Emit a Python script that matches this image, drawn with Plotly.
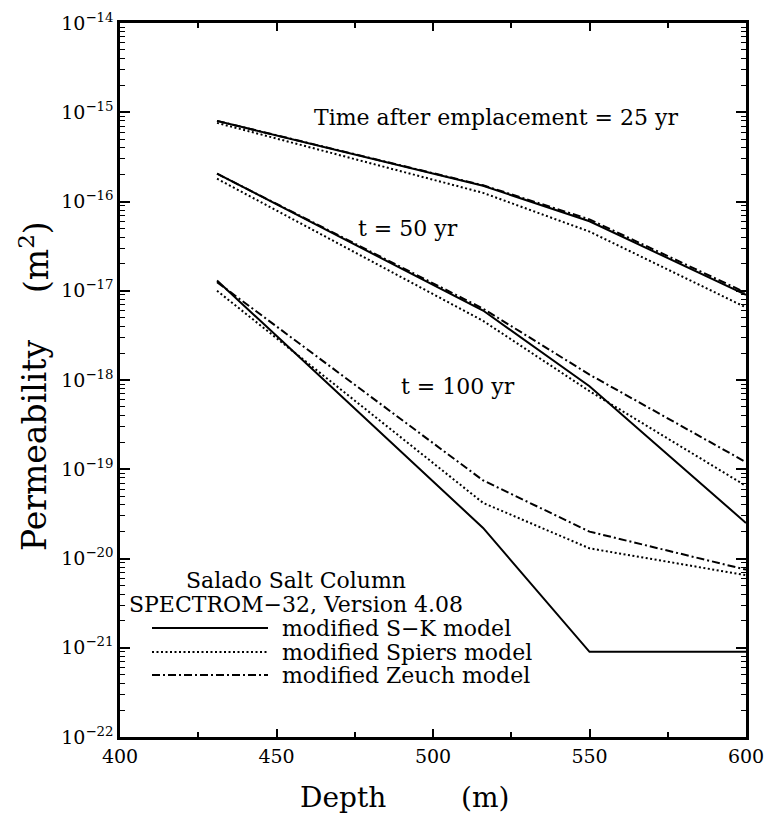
import plotly.graph_objects as go

# ---------------- data ----------------
depth = [431, 516, 550, 600]

sk_25 = [8.0e-16, 1.5e-16, 6.0e-17, 9.0e-18]
sp_25 = [7.6e-16, 1.25e-16, 4.6e-17, 6.5e-18]
ze_25 = [8.0e-16, 1.52e-16, 6.3e-17, 9.5e-18]

sk_50 = [2.05e-16, 6.0e-18, 8.5e-19, 2.5e-20]
sp_50 = [1.8e-16, 4.6e-18, 7.5e-19, 6.5e-20]
ze_50 = [2.05e-16, 6.3e-18, 1.15e-18, 1.2e-19]

sk_100 = [1.3e-17, 2.2e-20, 9.0e-22, 9.0e-22]
sp_100 = [1.0e-17, 4.2e-20, 1.3e-20, 6.5e-21]
ze_100 = [1.25e-17, 7.5e-20, 2.0e-20, 7.5e-21]

x_ticks = [400, 450, 500, 550, 600]
x_minor = [425, 475, 525, 575]
y_exps = list(range(-22, -13))
y_ticks = [10.0 ** e for e in y_exps]
y_ticktext = ["10<sup>\u2212%d</sup>" % (-e) for e in y_exps]
y_minor = [k * 10.0 ** e for e in range(-22, -14) for k in range(2, 10)]

legend_labels = ["modified S\u2212K model", "modified Spiers model", "modified Zeuch model"]

# ---------------- figure ----------------
FONT = "DejaVu Serif"
fig = go.Figure()

styles = {"sk": "solid", "sp": "2px,2.5px", "ze": "8px,3px,2px,3px"}
series = [
    (sk_25, "sk"), (sp_25, "sp"), (ze_25, "ze"),
    (sk_50, "sk"), (sp_50, "sp"), (ze_50, "ze"),
    (sk_100, "sk"), (sp_100, "sp"), (ze_100, "ze"),
]
for vals, kind in series:
    fig.add_trace(go.Scatter(
        x=depth, y=vals, mode="lines",
        line=dict(color="black", width=2, dash=styles[kind]),
        showlegend=False, hoverinfo="skip"))

fig.update_layout(
    width=764, height=816,
    margin=dict(l=120, r=18, t=23, b=79, autoexpand=False),
    paper_bgcolor="white", plot_bgcolor="white",
    font=dict(family=FONT, color="black", size=18),
    showlegend=False,
)

fig.update_xaxes(
    range=[400, 600], tickmode="array", tickvals=x_ticks, automargin=False,
    ticklabeloverflow="allow",
    ticks="inside", ticklen=8, tickwidth=1.5, tickcolor="black",
    showline=True, linewidth=2.5, linecolor="black", mirror="ticks",
    showgrid=False, zeroline=False,
    tickfont=dict(size=19, family=FONT),
    minor=dict(tickmode="array", tickvals=x_minor, ticks="inside",
               ticklen=5, tickwidth=1.5, tickcolor="black", showgrid=False),
)
fig.update_yaxes(
    type="log", range=[-22, -14], tickmode="array", automargin=False,
    ticklabeloverflow="allow",
    tickvals=y_ticks, ticktext=y_ticktext,
    ticks="inside", ticklen=10, tickwidth=1.5, tickcolor="black",
    showline=True, linewidth=2.5, linecolor="black", mirror="ticks",
    showgrid=False, zeroline=False,
    tickfont=dict(size=19, family=FONT),
    minor=dict(tickmode="array", tickvals=y_minor, ticks="inside",
               ticklen=5, tickwidth=1.2, tickcolor="black", showgrid=False),
)

# plot-area helpers (paper coords from pixel positions in the frame)
L, R, T, B = 120, 746, 23, 737
def px(xp):
    return (xp - L) / (R - L)
def py(yp):
    return (B - yp) / (B - T)

TXT = 22
ann = []
ann.append(dict(text="Time after emplacement = 25 yr", x=px(496), y=py(118)))
ann.append(dict(text="t = 50 yr", x=px(408), y=py(229)))
ann.append(dict(text="t = 100 yr", x=px(458), y=py(386)))
ann.append(dict(text="Salado Salt Column", x=px(296), y=py(580)))
ann.append(dict(text="SPECTROM\u221232, Version 4.08", x=px(296), y=py(604)))
for a in ann:
    fig.add_annotation(xref="paper", yref="paper", x=a["x"], y=a["y"],
                       text=a["text"], showarrow=False,
                       font=dict(size=TXT, family=FONT),
                       xanchor="center", yanchor="middle")

leg_y = [628, 652, 675]
for lbl, yy, kind in zip(legend_labels, leg_y, ["sk", "sp", "ze"]):
    fig.add_shape(type="line", xref="paper", yref="paper",
                  x0=px(152), x1=px(268), y0=py(yy), y1=py(yy),
                  line=dict(color="black", width=2, dash=styles[kind]))
    fig.add_annotation(xref="paper", yref="paper", x=px(280), y=py(yy),
                       text=lbl, showarrow=False,
                       font=dict(size=TXT, family=FONT),
                       xanchor="left", yanchor="middle")

# axis titles
fig.add_annotation(xref="paper", yref="paper", x=px(343), y=py(797),
                   text="Depth", showarrow=False,
                   font=dict(size=28, family=FONT), xanchor="center", yanchor="middle")
fig.add_annotation(xref="paper", yref="paper", x=px(485), y=py(797),
                   text="(m)", showarrow=False,
                   font=dict(size=28, family=FONT), xanchor="center", yanchor="middle")
fig.add_annotation(xref="paper", yref="paper", x=px(34), y=py(445),
                   text="Permeability", showarrow=False, textangle=-90,
                   font=dict(size=33, family=FONT), xanchor="center", yanchor="middle")
fig.add_annotation(xref="paper", yref="paper", x=px(34), y=py(257),
                   text="(m<sup>2</sup>)", showarrow=False, textangle=-90,
                   font=dict(size=33, family=FONT), xanchor="center", yanchor="middle")

fig.write_html("out.html", config={"displayModeBar": False},
               post_script="document.body.style.margin='0px';")
